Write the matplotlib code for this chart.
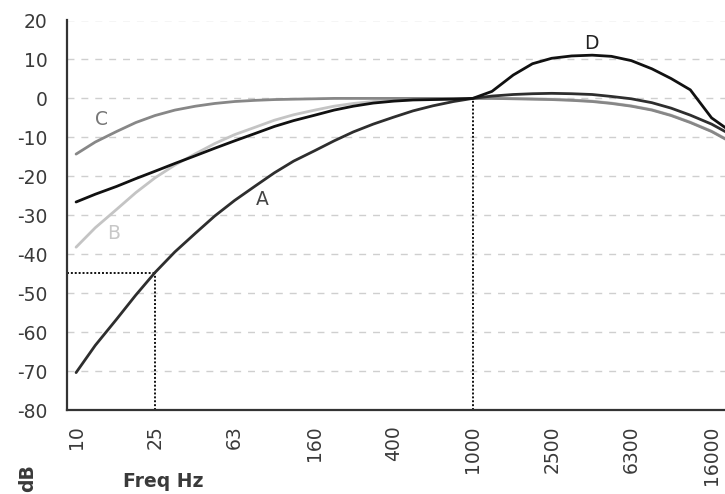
import matplotlib
matplotlib.use("Agg")
import matplotlib.pyplot as plt
from matplotlib.ticker import FixedLocator, NullLocator

# Data (third-octave band frequencies, dB)
freqs = [10, 12.5, 16, 20, 25, 31.5, 40, 50, 63, 80, 100, 125, 160, 200, 250, 315,
         400, 500, 630, 800, 1000, 1250, 1600, 2000, 2500, 3150, 4000, 5000, 6300,
         8000, 10000, 12500, 16000, 20000]
a_vals = [-70.4, -63.4, -56.7, -50.5, -44.7, -39.4, -34.6, -30.2, -26.2, -22.5, -19.1,
          -16.1, -13.4, -10.9, -8.6, -6.6, -4.8, -3.2, -1.9, -0.8, 0.0, 0.6, 1.0, 1.2,
          1.3, 1.2, 1.0, 0.5, -0.1, -1.1, -2.5, -4.3, -6.6, -9.3]
b_vals = [-38.2, -33.2, -28.5, -24.2, -20.4, -17.1, -14.2, -11.6, -9.3, -7.4, -5.6,
          -4.2, -3.0, -2.0, -1.3, -0.8, -0.5, -0.3, -0.1, 0.0, 0.0, 0.0, 0.0, -0.1,
          -0.2, -0.4, -0.7, -1.2, -1.9, -2.9, -4.3, -6.1, -8.4, -11.1]
c_vals = [-14.3, -11.2, -8.5, -6.2, -4.4, -3.0, -2.0, -1.3, -0.8, -0.5, -0.3, -0.2,
          -0.1, 0.0, 0.0, 0.0, 0.0, 0.0, 0.0, 0.0, 0.0, 0.0, -0.1, -0.2, -0.3, -0.5,
          -0.8, -1.3, -2.0, -3.0, -4.4, -6.2, -8.5, -11.2]
d_vals = [-26.6, -24.6, -22.6, -20.6, -18.7, -16.7, -14.7, -12.8, -10.9, -9.0, -7.2,
          -5.7, -4.3, -3.0, -2.0, -1.2, -0.7, -0.4, -0.3, -0.2, 0.0, 1.8, 6.0, 8.9,
          10.3, 10.9, 11.1, 10.8, 9.7, 7.6, 5.1, 2.2, -5.0, -8.5]

xtick_vals = [10, 25, 63, 160, 400, 1000, 2500, 6300, 16000]
xtick_labels = ["10", "25", "63", "160", "400", "1000", "2500", "6300", "16000"]
ytick_vals = [20, 10, 0, -10, -20, -30, -40, -50, -60, -70, -80]

curve_labels = ["A", "B", "C", "D"]
label_pos = [(87, -26.0), (15.4, -34.8), (13.4, -5.5), (3980, 14.2)]

marker_freq = 25
marker_db = -44.7
ref_freq = 1000
ref_db = 0

fig = plt.figure(figsize=(7.25, 4.94), dpi=100)
ax = fig.add_axes([67 / 725, 1 - 410 / 494, 1 - 67 / 725, (410 - 20.5) / 494])

colors = {"A": "#2e2e2e", "B": "#c4c4c4", "C": "#878787", "D": "#111111"}
text_colors = {"A": "#444444", "B": "#c8c8c8", "C": "#777777", "D": "#222222"}
series = {"A": a_vals, "B": b_vals, "C": c_vals, "D": d_vals}
order = ["B", "C", "A", "D"]
for k in order:
    ax.plot(freqs, series[k], color=colors[k], lw=2.0, solid_capstyle="round",
            solid_joinstyle="round", zorder=3)

for k, (fx, fy) in zip(curve_labels, label_pos):
    ax.text(fx, fy, k, color=text_colors[k], fontsize=13.5,
            ha="center", va="center", zorder=4)

# dotted reference lines
ax.plot([9.0, marker_freq], [marker_db, marker_db], color="#111111", ls=(0, (1, 1)), lw=1.4, zorder=2)
ax.plot([marker_freq, marker_freq], [-80, marker_db], color="#111111", ls=(0, (1, 1)), lw=1.4, zorder=2)
ax.plot([ref_freq, ref_freq], [-80, ref_db], color="#111111", ls=(0, (1, 1)), lw=1.4, zorder=2)

ax.set_xscale("log")
ax.set_xlim(9.0, 18700)
ax.set_ylim(-80, 20)
ax.xaxis.set_major_locator(FixedLocator(xtick_vals))
ax.xaxis.set_minor_locator(NullLocator())
ax.set_xticklabels(xtick_labels, rotation=90, fontsize=13.5, color="#3a3a3a")
ax.set_yticks(ytick_vals)
ax.set_yticklabels([str(v) for v in ytick_vals], fontsize=13.5, color="#3a3a3a")
ax.tick_params(axis="both", length=0)
ax.tick_params(axis="x", pad=11)
ax.tick_params(axis="y", pad=14)

ax.yaxis.grid(True, color="#cfcfcf", ls=(0, (5, 5)), lw=1.0)
ax.xaxis.grid(False)
ax.set_axisbelow(True)

for s in ["top", "right"]:
    ax.spines[s].set_visible(False)
for s in ["left", "bottom"]:
    ax.spines[s].set_color("#333333")
    ax.spines[s].set_linewidth(1.6)

fig.text(163 / 725, 1 - 481 / 494, "Freq Hz", fontsize=13.5, fontweight="bold",
         color="#3a3a3a", ha="center", va="center")
fig.text(28 / 725, 1 - 478 / 494, "dB", fontsize=13.5, fontweight="bold",
         color="#3a3a3a", ha="center", va="center", rotation=90)

fig.savefig("out.png", dpi=100)
